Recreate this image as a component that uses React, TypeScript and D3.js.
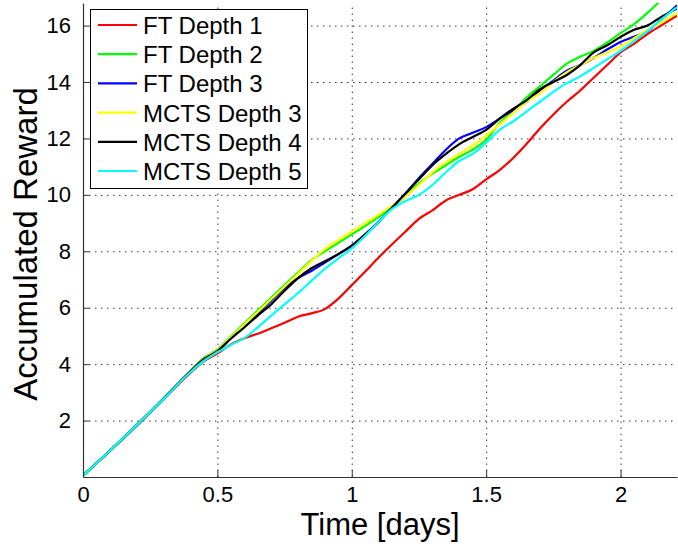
import React, { useEffect, useRef } from 'react';
import * as d3 from 'd3';

// time axis (days), shared by all series
const times = [0, 0.1, 0.2, 0.3, 0.4, 0.45, 0.5, 0.55, 0.6, 0.65, 0.7, 0.75, 0.8, 0.85, 0.9, 0.95,
    1.0, 1.05, 1.1, 1.15, 1.2, 1.25, 1.3, 1.35, 1.4, 1.45, 1.5, 1.55, 1.6, 1.65, 1.7, 1.75,
    1.8, 1.85, 1.9, 1.95, 2.0, 2.05, 2.1, 2.15, 2.21];

const ftDepth1 = [0.05, 0.92, 1.82, 2.75, 3.7, 4.1, 4.38, 4.7, 4.92, 5.08, 5.27, 5.47, 5.68, 5.8, 5.95, 6.32,
    6.8, 7.28, 7.78, 8.25, 8.7, 9.15, 9.45, 9.8, 10.0, 10.2, 10.55, 10.88, 11.3, 11.8, 12.35, 12.85,
    13.3, 13.7, 14.15, 14.6, 15.05, 15.35, 15.7, 16.0, 16.35];

const ftDepth2 = [0.05, 0.93, 1.84, 2.78, 3.76, 4.22, 4.52, 4.98, 5.44, 5.9, 6.35, 6.8, 7.25, 7.68, 8.0, 8.3,
    8.6, 8.9, 9.22, 9.55, 9.95, 10.4, 10.75, 11.05, 11.35, 11.6, 11.95, 12.55, 12.95, 13.45, 13.85, 14.25,
    14.65, 14.9, 15.1, 15.4, 15.73, 16.05, 16.45, 16.9];

const ftDepth3 = [0.05, 0.93, 1.84, 2.78, 3.75, 4.2, 4.48, 4.92, 5.35, 5.8, 6.25, 6.7, 7.05, 7.3, 7.6, 7.9,
    8.2, 8.6, 9.05, 9.55, 10.05, 10.6, 11.1, 11.6, 12.0, 12.2, 12.4, 12.7, 13.0, 13.3, 13.7, 14.05,
    14.4, 14.6, 14.85, 15.15, 15.42, 15.6, 15.8, 16.2, 16.72];

const mctsDepth3 = [0.05, 0.93, 1.84, 2.78, 3.75, 4.2, 4.5, 4.95, 5.4, 5.85, 6.3, 6.75, 7.2, 7.65, 8.08, 8.4,
    8.7, 9.0, 9.3, 9.62, 9.95, 10.35, 10.8, 11.15, 11.45, 11.75, 12.1, 12.5, 12.9, 13.3, 13.6, 14.0,
    14.35, 14.6, 14.85, 15.05, 15.26, 15.55, 15.85, 16.1, 16.45];

const mctsDepth4 = [0.05, 0.93, 1.84, 2.78, 3.75, 4.18, 4.46, 4.9, 5.3, 5.72, 6.12, 6.6, 7.05, 7.4, 7.65, 7.9,
    8.2, 8.6, 9.05, 9.55, 10.05, 10.55, 11.05, 11.45, 11.8, 12.05, 12.3, 12.7, 13.05, 13.35, 13.75, 14.0,
    14.25, 14.6, 15.05, 15.3, 15.6, 15.85, 16.0, 16.3, 16.6];

const mctsDepth5 = [0.05, 0.93, 1.84, 2.77, 3.72, 4.12, 4.42, 4.68, 4.92, 5.3, 5.72, 6.12, 6.52, 6.95, 7.38, 7.75,
    8.1, 8.55, 9.05, 9.5, 9.78, 10.0, 10.35, 10.8, 11.2, 11.45, 11.85, 12.3, 12.6, 12.95, 13.3, 13.65,
    13.96, 14.2, 14.5, 14.8, 15.1, 15.45, 15.8, 16.2, 16.65];

const seriesNames = ['FT Depth 1', 'FT Depth 2', 'FT Depth 3', 'MCTS Depth 3', 'MCTS Depth 4', 'MCTS Depth 5'];
const seriesValues = [ftDepth1, ftDepth2, ftDepth3, mctsDepth3, mctsDepth4, mctsDepth5];
const seriesColors = ['#ff0000', '#00ff00', '#0000ff', '#ffff00', '#000000', '#00ffff'];

const xTicks = [0, 0.5, 1, 1.5, 2];
const yTicks = [2, 4, 6, 8, 10, 12, 14, 16];

const App = () => {
    const svgRef = useRef(null);

    useEffect(() => {
        document.body.style.margin = '0';
        const svg = d3.select(svgRef.current);
        svg.selectAll('*').remove();

        const left = 83, right = 677, top = 3, bottom = 477;
        const font = 'Liberation Sans, Arial, sans-serif';

        const x = d3.scaleLinear().domain([0, 2.21]).range([left, right]);
        const y = d3.scaleLinear().domain([0, 16.8]).range([bottom, top]);

        svg.append('defs').append('clipPath').attr('id', 'plotclip')
            .append('rect')
            .attr('x', left).attr('y', top)
            .attr('width', right - left).attr('height', bottom - top);

        // dotted grid, drawn as gridlines of the d3 axes
        const gridX = svg.append('g')
            .attr('class', 'grid')
            .attr('transform', 'translate(0,' + bottom + ')')
            .call(d3.axisBottom(x).tickValues(xTicks.filter(d => d > 0))
                .tickSize(-(bottom - top)).tickFormat(() => ''));
        const gridY = svg.append('g')
            .attr('class', 'grid')
            .attr('transform', 'translate(' + left + ',0)')
            .call(d3.axisLeft(y).tickValues(yTicks)
                .tickSize(-(right - left)).tickFormat(() => ''));
        [gridX, gridY].forEach(g => {
            g.select('.domain').remove();
            g.selectAll('.tick line')
                .style('stroke', '#3a3a3a')
                .style('stroke-width', '1px')
                .style('stroke-dasharray', '1.5 4.5');
        });

        // series lines
        const line = d3.line()
            .x((d, i) => x(times[i]))
            .y(d => y(d))
            .curve(d3.curveMonotoneX);

        svg.append('g')
            .attr('clip-path', 'url(#plotclip)')
            .selectAll('path')
            .data(seriesValues)
            .enter().append('path')
            .attr('d', d => line(d))
            .attr('fill', 'none')
            .attr('stroke', (d, i) => seriesColors[i])
            .attr('stroke-width', 2.2)
            .attr('stroke-linejoin', 'round');

        // axes (MATLAB style: ticks inside)
        const xAxis = d3.axisBottom(x).tickValues(xTicks).tickFormat(d3.format('~g'))
            .tickSizeInner(-7).tickSizeOuter(0);
        const gx = svg.append('g')
            .attr('transform', 'translate(0,' + bottom + ')')
            .call(xAxis);
        const yAxis = d3.axisLeft(y).tickValues(yTicks).tickFormat(d3.format('~g'))
            .tickSizeInner(-6).tickSizeOuter(0).tickPadding(12);
        const gy = svg.append('g')
            .attr('transform', 'translate(' + left + ',0)')
            .call(yAxis);

        [gx, gy].forEach(g => {
            g.select('.domain').attr('stroke', '#333').attr('stroke-width', 1.2);
            g.selectAll('.tick line').attr('stroke', '#333');
            g.selectAll('.tick text')
                .attr('font-family', font)
                .attr('font-size', 22)
                .attr('fill', '#000');
        });
        gx.selectAll('.tick text').attr('dy', '0.71em').attr('y', 9);

        // axis labels
        svg.append('text')
            .attr('x', (left + right) / 2)
            .attr('y', 535)
            .attr('text-anchor', 'middle')
            .attr('font-family', font)
            .attr('font-size', 31)
            .text('Time [days]');

        svg.append('text')
            .attr('transform', 'translate(37,244) rotate(-90)')
            .attr('text-anchor', 'middle')
            .attr('font-family', font)
            .attr('font-size', 33)
            .text('Accumulated Reward');

        // legend
        const legend = svg.append('g');
        legend.append('rect')
            .attr('x', 90.5).attr('y', 9.5)
            .attr('width', 217).attr('height', 179)
            .attr('fill', '#fff')
            .attr('stroke', '#000')
            .attr('stroke-width', 1);

        const item = legend.selectAll('.item')
            .data(seriesNames)
            .enter().append('g')
            .attr('transform', (d, i) => 'translate(0,' + (25 + i * 29.2) + ')');
        item.append('line')
            .attr('x1', 98).attr('x2', 137)
            .attr('y1', 0).attr('y2', 0)
            .attr('stroke', (d, i) => seriesColors[i])
            .attr('stroke-width', 2.2);
        item.append('text')
            .attr('x', 143)
            .attr('y', 9)
            .attr('font-family', font)
            .attr('font-size', 24)
            .text(d => d);
    }, []);

    return (
        <svg ref={svgRef} width="678" height="547" style={{ display: 'block', background: '#fff' }}></svg>
    );
};

export default App;
